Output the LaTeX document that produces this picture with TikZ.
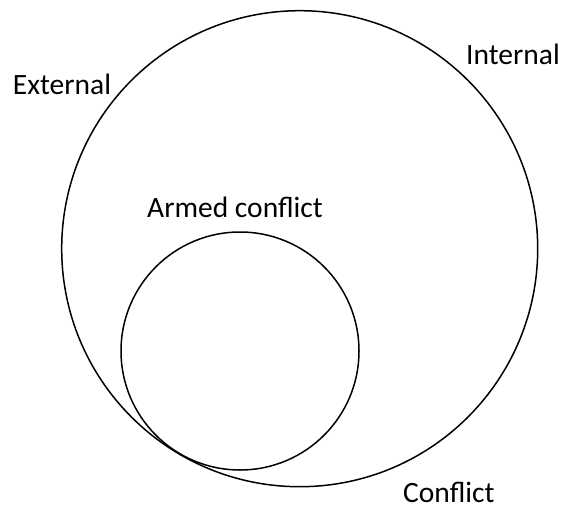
\documentclass[tikz,border=0pt]{standalone}
\usepackage{fontspec}
\setmainfont{Carlito}
\begin{document}
\begin{tikzpicture}[x=1pt,y=-1pt,
  ring/.style={draw=black,line width=1.5pt},
  lbl/.style={anchor=base west,inner sep=0pt,font=\fontsize{29.5}{33}\selectfont}]
\useasboundingbox (0,0) rectangle (562,506);
\node[ring,circle,minimum size=476pt,inner sep=0pt] (conflict) at (299.7,248.7) {};
\node[ring,circle,minimum size=238pt,inner sep=0pt] (armed) at (240,351) {};
\node[lbl] (ext) at (12.7,94) {External};
\node[lbl] (int) at (466,64) {Internal};
\node[lbl] (arm) at (147,217) {Armed conflict};
\node[lbl] (con) at (403,502) {Conflict};
\end{tikzpicture}
\end{document}
